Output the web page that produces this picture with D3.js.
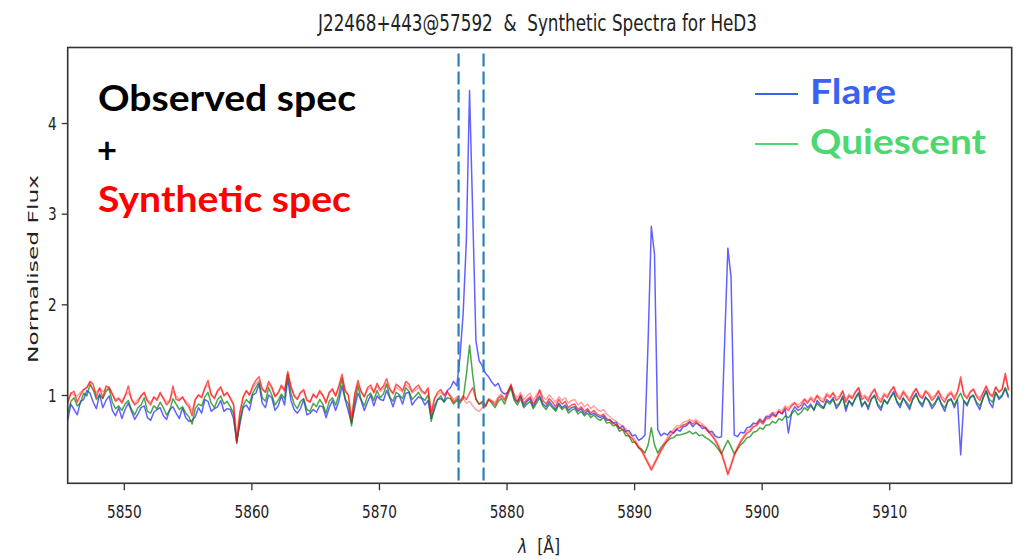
<html>
<head>
  <meta http-equiv='Content-Type' content='text/html;charset=utf-8'>
  <title>J22468+443 HeD3 spectra</title>
  <script src="https://cdn.jsdelivr.net/npm/d3@7"></script>
  <style type='text/css'>
    body { margin: 0; background: #fff; }
    svg { display: block; }
    .tick text, .lbl { font-family: 'DejaVu Sans', sans-serif; fill: #222; }
    .big { font-family: Lato, 'Open Sans', sans-serif; font-weight: 700; }
    .tick line { stroke: #333; stroke-width: 1.3; }
  </style>
</head>
<body>
<div id="main"></div>
<script type='text/javascript'>

// wavelength grid of the spectra (Angstrom)
var lambdaStart = 5845.6,
    lambdaStep = 0.25;

// observed spectrum during the flare
var flare = [
  0.72,0.90,0.84,0.78,0.93,0.95,1.05,1.02,0.92,0.85,
  1.01,0.86,0.94,0.99,0.83,0.77,0.86,0.74,0.84,0.91,
  0.82,0.73,0.79,0.86,0.88,0.75,0.72,0.81,0.84,0.86,
  0.77,0.73,0.84,0.87,0.80,0.74,0.86,0.75,0.71,0.72,
  0.76,0.86,0.80,0.95,0.93,0.82,0.85,0.87,0.94,0.82,
  0.85,0.84,0.74,0.49,0.68,0.86,0.89,0.83,1.00,1.02,
  1.12,0.91,0.86,1.00,0.97,0.83,0.88,0.99,0.89,1.18,
  0.94,0.84,0.80,0.85,0.95,0.78,0.80,0.84,0.81,0.88,
  0.87,0.75,0.86,0.94,0.83,0.93,1.10,0.95,0.82,0.69,
  0.86,1.02,0.94,0.83,0.92,1.00,0.88,0.99,0.95,0.94,
  1.05,0.97,0.87,0.98,0.99,0.90,1.02,1.03,0.89,0.94,
  0.98,0.96,0.89,0.94,0.74,0.84,0.95,0.96,0.93,1.05,
  1.08,1.15,1.10,1.42,1.90,2.70,4.36,3.00,1.60,1.38,
  1.32,1.24,1.20,1.14,1.10,1.13,1.04,1.01,1.03,1.10,
  0.96,0.92,0.99,0.88,0.93,0.96,0.87,0.94,0.99,0.90,
  0.87,0.93,0.88,0.84,0.91,0.86,0.89,0.83,0.86,0.87,
  0.82,0.85,0.79,0.83,0.78,0.80,0.77,0.75,0.77,0.72,
  0.73,0.69,0.70,0.63,0.66,0.60,0.61,0.55,0.56,0.50,
  0.52,0.56,1.60,2.86,2.55,0.62,0.55,0.58,0.56,0.60,
  0.58,0.62,0.60,0.65,0.66,0.70,0.65,0.69,0.67,0.63,
  0.64,0.59,0.60,0.55,0.53,0.54,1.60,2.62,2.30,0.56,
  0.54,0.59,0.58,0.64,0.65,0.69,0.68,0.73,0.70,0.76,
  0.76,0.80,0.77,0.82,0.79,0.84,0.58,0.81,0.87,0.83,
  0.85,0.91,0.86,0.90,0.83,0.94,0.89,0.86,0.95,0.92,
  0.97,0.85,0.90,0.99,0.82,0.94,0.88,0.97,1.03,0.87,
  0.93,0.84,0.96,1.00,0.88,0.83,0.95,0.90,0.98,1.04,
  0.92,0.86,0.97,0.90,0.84,0.96,1.02,0.92,0.87,0.98,
  0.93,0.85,0.90,0.99,0.89,0.82,0.94,0.96,0.86,0.95,
  0.34,0.94,0.88,0.98,1.00,0.90,0.84,0.97,1.05,0.92,
  0.86,1.03,0.95,0.99,1.07,0.97
];

// observed spectrum in quiescence
var quiescent = [
  0.80,0.93,0.97,0.88,0.91,1.02,0.99,1.12,1.06,0.95,
  1.00,0.96,1.04,1.07,0.92,0.85,0.88,0.83,0.90,0.94,
  0.84,0.78,0.86,0.89,0.97,0.82,0.80,0.88,0.85,0.92,
  0.86,0.78,0.83,0.96,0.90,0.84,0.87,0.80,0.76,0.68,
  0.85,0.90,0.88,0.98,1.03,0.91,0.86,0.95,0.99,0.90,
  0.93,0.87,0.80,0.47,0.72,0.88,0.95,0.91,1.02,1.08,
  1.14,0.97,0.93,1.08,1.00,0.89,0.94,1.01,0.96,1.23,
  1.02,0.90,0.85,0.93,0.96,0.84,0.82,0.91,0.87,0.95,
  0.90,0.80,0.93,0.97,0.89,1.00,1.18,0.96,0.90,0.66,
  0.92,1.10,0.95,0.88,0.99,1.02,0.94,1.05,0.97,1.01,
  1.12,0.98,0.93,1.03,1.00,0.96,1.08,1.04,0.95,0.99,
  1.03,0.97,0.94,1.00,0.71,0.88,0.95,0.99,0.92,0.97,
  0.96,0.90,0.94,0.91,0.96,1.22,1.55,1.22,0.95,0.90,
  0.93,0.88,0.95,0.91,0.86,0.93,0.96,0.90,1.00,1.08,
  0.94,0.89,0.96,0.86,0.90,0.93,0.85,0.91,0.97,0.88,
  0.84,0.90,0.86,0.82,0.89,0.84,0.87,0.80,0.83,0.85,
  0.79,0.82,0.77,0.80,0.75,0.78,0.74,0.72,0.75,0.69,
  0.70,0.66,0.67,0.60,0.62,0.55,0.55,0.48,0.48,0.42,
  0.40,0.36,0.45,0.64,0.45,0.36,0.42,0.46,0.49,0.52,
  0.53,0.56,0.56,0.57,0.58,0.60,0.57,0.59,0.55,0.56,
  0.53,0.51,0.48,0.45,0.40,0.35,0.43,0.50,0.43,0.35,
  0.40,0.45,0.48,0.53,0.54,0.59,0.60,0.64,0.62,0.67,
  0.67,0.71,0.69,0.74,0.72,0.77,0.75,0.79,0.83,0.78,
  0.81,0.86,0.83,0.88,0.84,0.91,0.87,0.85,0.93,0.90,
  0.95,0.88,0.91,0.97,0.86,0.93,0.90,0.96,1.01,0.89,
  0.92,0.87,0.95,0.99,0.90,0.86,0.94,0.91,0.97,1.02,
  0.93,0.89,0.96,0.92,0.87,0.95,1.00,0.93,0.90,0.97,
  0.94,0.88,0.92,0.97,0.90,0.86,0.93,0.95,0.89,0.96,
  1.02,0.93,0.90,0.97,0.99,0.92,0.88,0.96,1.04,0.95,
  0.92,1.03,0.97,1.00,1.08,0.99
];

// synthetic spectra
var synthA = [
  0.91,1.02,1.04,0.92,1.00,1.06,1.08,1.15,1.12,0.98,
  1.08,0.97,1.10,1.08,1.01,0.93,0.96,0.91,0.99,1.10,
  0.95,0.89,0.92,0.99,1.03,0.93,0.89,0.98,0.94,1.03,
  0.96,0.89,0.93,1.10,0.95,0.94,0.98,0.91,0.87,0.77,
  0.95,1.00,0.97,1.08,1.16,1.00,0.96,1.05,1.09,0.99,
  1.03,0.96,0.89,0.47,0.80,0.98,1.05,1.00,1.10,1.16,
  1.20,1.07,1.03,1.15,1.09,0.98,1.02,1.11,1.05,1.26,
  1.10,0.99,0.95,1.03,1.06,0.94,0.92,1.01,0.97,1.05,
  1.00,0.91,1.03,1.07,0.99,1.10,1.23,1.05,1.00,0.72,
  1.01,1.16,1.04,0.98,1.08,1.11,1.03,1.13,1.06,1.10,
  1.18,1.07,1.02,1.12,1.09,1.05,1.15,1.12,1.04,1.08,
  1.11,1.05,1.02,1.08,0.78,0.96,1.03,1.06,1.00,1.04,
  0.98,0.92,0.96,0.93,0.99,0.95,1.02,1.08,0.96,0.90,
  0.91,0.87,0.95,0.93,0.89,0.96,0.99,0.94,1.03,1.12,
  0.99,0.93,1.00,0.91,0.95,0.98,0.90,0.96,1.05,0.94,
  0.90,0.96,0.92,0.87,0.95,0.90,0.93,0.86,0.89,0.90,
  0.84,0.87,0.82,0.85,0.80,0.83,0.79,0.77,0.79,0.74,
  0.72,0.69,0.67,0.64,0.62,0.59,0.55,0.52,0.47,0.42,
  0.38,0.31,0.24,0.17,0.24,0.31,0.38,0.44,0.50,0.55,
  0.59,0.63,0.64,0.67,0.68,0.71,0.68,0.71,0.67,0.66,
  0.63,0.59,0.55,0.50,0.43,0.35,0.24,0.12,0.22,0.33,
  0.41,0.48,0.53,0.58,0.60,0.65,0.66,0.71,0.68,0.74,
  0.74,0.78,0.76,0.82,0.80,0.86,0.83,0.88,0.91,0.86,
  0.89,0.95,0.91,0.96,0.92,0.99,0.94,0.92,1.00,0.97,
  1.02,0.94,0.97,1.04,0.92,0.99,0.96,1.03,1.08,0.95,
  0.98,0.93,1.01,1.06,0.96,0.92,1.00,0.97,1.04,1.09,
  0.99,0.95,1.03,0.98,0.93,1.01,1.07,0.99,0.96,1.04,
  1.00,0.94,0.98,1.04,0.96,0.92,0.99,1.02,0.95,1.03,
  1.20,1.00,0.96,1.03,1.06,0.98,0.94,1.02,1.10,1.01,
  0.98,1.09,1.03,1.06,1.24,1.05
];

var synthB = [
  0.93,1.02,1.00,0.99,1.03,1.06,1.09,1.14,1.05,1.03,
  1.07,1.04,1.06,1.09,1.01,0.95,0.97,0.93,1.00,1.03,
  0.96,0.91,0.95,0.99,1.02,0.94,0.92,0.97,0.96,1.01,
  0.97,0.92,0.94,1.04,0.99,0.95,0.97,0.93,0.90,0.82,
  0.95,1.00,0.98,1.07,1.11,1.01,0.97,1.04,1.07,1.00,
  1.02,0.97,0.91,0.55,0.82,0.97,1.04,1.00,1.08,1.12,
  1.16,1.06,1.03,1.12,1.07,0.99,1.03,1.09,1.04,1.22,
  1.08,1.00,0.96,1.02,1.04,0.95,0.93,1.00,0.97,1.03,
  0.99,0.93,1.02,1.05,0.99,1.08,1.19,1.04,1.00,0.76,
  1.00,1.12,1.03,0.98,1.06,1.08,1.02,1.10,1.04,1.07,
  1.13,1.05,1.01,1.09,1.06,1.03,1.12,1.08,1.02,1.05,
  1.08,1.03,1.01,1.05,0.82,0.96,1.01,1.03,0.99,1.02,
  1.00,0.95,0.98,0.94,0.96,0.91,0.93,0.88,0.84,0.82,
  0.86,0.90,0.96,0.94,0.92,0.98,1.01,0.96,1.04,1.10,
  1.01,0.97,1.03,0.95,0.99,1.02,0.94,1.00,1.06,0.98,
  0.95,1.00,0.96,0.92,0.98,0.94,0.97,0.91,0.94,0.95,
  0.89,0.92,0.87,0.90,0.85,0.88,0.84,0.82,0.84,0.79,
  0.76,0.73,0.71,0.68,0.66,0.63,0.58,0.55,0.50,0.44,
  0.40,0.33,0.26,0.19,0.26,0.33,0.40,0.47,0.53,0.58,
  0.62,0.66,0.66,0.70,0.71,0.73,0.71,0.73,0.70,0.68,
  0.65,0.61,0.57,0.52,0.45,0.37,0.26,0.14,0.24,0.35,
  0.43,0.50,0.55,0.61,0.62,0.68,0.69,0.74,0.71,0.77,
  0.78,0.81,0.80,0.84,0.83,0.88,0.86,0.90,0.92,0.89,
  0.92,0.96,0.93,0.98,0.95,1.00,0.97,0.95,1.02,0.99,
  1.03,0.97,0.99,1.05,0.95,1.01,0.98,1.04,1.08,0.98,
  1.00,0.96,1.03,1.07,0.99,0.95,1.02,0.99,1.05,1.09,
  1.01,0.98,1.05,1.00,0.96,1.03,1.07,1.01,0.98,1.05,
  1.02,0.97,1.00,1.05,0.99,0.95,1.01,1.04,0.98,1.04,
  1.15,1.02,0.98,1.04,1.07,1.00,0.97,1.03,1.09,1.02,
  1.00,1.08,1.04,1.07,1.20,1.06
];

// HeD3 integration window
var windowLines = [5876.24, 5878.2];

var xTicks = [5850, 5860, 5870, 5880, 5890, 5900, 5910],
    yTicks = [1, 2, 3, 4],
    xDomain = [5845.6, 5919.6],
    yDomain = [0.026, 4.833];

var W = 1018, H = 559,
    m = { top: 47.5, right: 6.3, bottom: 75.7, left: 67.7 },
    w = W - m.left - m.right,
    h = H - m.top - m.bottom,
    squeeze = 0.78;

var x = d3.scaleLinear().domain(xDomain).range([0, w]),
    y = d3.scaleLinear().domain(yDomain).range([h, 0]);

function wave(i) { return lambdaStart + i * lambdaStep; }

var svg = d3.select('#main').append('svg')
    .attr('width', W)
    .attr('height', H);

var vis = svg.append('g')
    .attr('transform', 'translate(' + m.left + ',' + m.top + ')');

vis.append('clipPath').attr('id', 'clip')
  .append('rect').attr('width', w).attr('height', h);

var line = d3.line()
    .x(function(d, i) { return x(wave(i)); })
    .y(function(d) { return y(d); });

var plot = vis.append('g').attr('clip-path', 'url(#clip)');

var series = [
  { data: flare, color: '#0000ff', op: 0.62, sw: 1.5 },
  { data: quiescent, color: '#008000', op: 0.7, sw: 1.5 },
  { data: synthB, color: '#ff3030', op: 0.45, sw: 1.5 },
  { data: synthA, color: '#ff0000', op: 0.65, sw: 1.5 }
];

series.forEach(function(s) {
  plot.append('path')
      .datum(s.data)
      .attr('d', line)
      .style('fill', 'none')
      .style('stroke', s.color)
      .style('stroke-opacity', s.op)
      .style('stroke-width', s.sw)
      .style('stroke-linejoin', 'round');
});

plot.selectAll('line.win')
    .data(windowLines)
  .enter().append('line')
    .attr('class', 'win')
    .attr('x1', function(d) { return x(d); })
    .attr('x2', function(d) { return x(d); })
    .attr('y1', 6)
    .attr('y2', h)
    .style('stroke', '#2a7fba')
    .style('stroke-width', 2.2)
    .style('stroke-dasharray', '13,5');

// axes
var xAxis = vis.append('g')
    .attr('transform', 'translate(0,' + h + ')')
    .call(d3.axisBottom(x).tickValues(xTicks).tickSize(7).tickFormat(d3.format('d')));

xAxis.selectAll('text')
    .attr('y', 35)
    .attr('dy', 0)
    .attr('class', 'lbl')
    .style('font-size', '17.5px')
    .attr('transform', 'scale(' + squeeze + ',1)');

var yAxis = vis.append('g')
    .call(d3.axisLeft(y).tickValues(yTicks).tickSize(6).tickFormat(d3.format('d')));

yAxis.selectAll('text')
    .attr('x', -11 / squeeze)
    .attr('dy', '0.36em')
    .attr('class', 'lbl')
    .style('font-size', '17.5px')
    .attr('transform', 'scale(' + squeeze + ',1)');

vis.selectAll('.domain').remove();

vis.append('rect')
    .attr('width', w)
    .attr('height', h)
    .style('fill', 'none')
    .style('stroke', '#333')
    .style('stroke-width', 1.6);

// title and axis labels
svg.append('text')
    .attr('class', 'lbl')
    .attr('x', 537.5)
    .attr('y', 31)
    .attr('text-anchor', 'middle')
    .attr('textLength', 439)
    .attr('lengthAdjust', 'spacingAndGlyphs')
    .style('font-size', '23px')
    .style('white-space', 'pre')
    .text('J22468+443@57592  &  Synthetic Spectra for HeD3');

svg.append('text')
    .attr('class', 'lbl')
    .attr('transform', 'translate(38,269) scale(' + squeeze + ',1) rotate(-90)')
    .attr('text-anchor', 'middle')
    .attr('textLength', 188)
    .attr('lengthAdjust', 'spacingAndGlyphs')
    .style('font-size', '19px')
    .text('Normalised Flux');

var xl = svg.append('text')
    .attr('class', 'lbl')
    .attr('transform', 'translate(539,553) scale(' + squeeze + ',1)')
    .attr('text-anchor', 'middle')
    .style('font-size', '20px')
    .style('white-space', 'pre');
xl.append('tspan').style('font-style', 'italic').text('λ');
xl.append('tspan').text('  [Å]');

// annotations
var notes = [
  { t: 'Observed spec', x: 98, y: 111, len: 258, c: '#000' },
  { t: '+', x: 97, y: 163, len: 20, c: '#000' },
  { t: 'Synthetic spec', x: 98, y: 212, len: 253, c: '#ff0000' }
];

svg.selectAll('text.note')
    .data(notes)
  .enter().append('text')
    .attr('class', 'note big')
    .attr('x', function(d) { return d.x; })
    .attr('y', function(d) { return d.y; })
    .attr('textLength', function(d) { return d.len; })
    .attr('lengthAdjust', 'spacingAndGlyphs')
    .style('font-size', '37px')
    .style('fill', function(d) { return d.c; })
    .text(function(d) { return d.t; });

// legend
var legend = [
  { t: 'Flare', y: 94, len: 86, c: '#3a62f2' },
  { t: 'Quiescent', y: 144, len: 176, c: '#4cd870' }
];

var lg = svg.selectAll('g.legend')
    .data(legend)
  .enter().append('g')
    .attr('class', 'legend')
    .attr('transform', function(d) { return 'translate(0,' + d.y + ')'; });

lg.append('line')
    .attr('x1', 755).attr('x2', 798)
    .style('stroke', function(d) { return d.c; })
    .style('stroke-width', 2);

lg.append('text')
    .attr('class', 'big')
    .attr('x', 810)
    .attr('y', 10)
    .attr('textLength', function(d) { return d.len; })
    .attr('lengthAdjust', 'spacingAndGlyphs')
    .style('font-size', '35px')
    .style('fill', function(d) { return d.c; })
    .text(function(d) { return d.t; });

</script>
</body>
</html>
